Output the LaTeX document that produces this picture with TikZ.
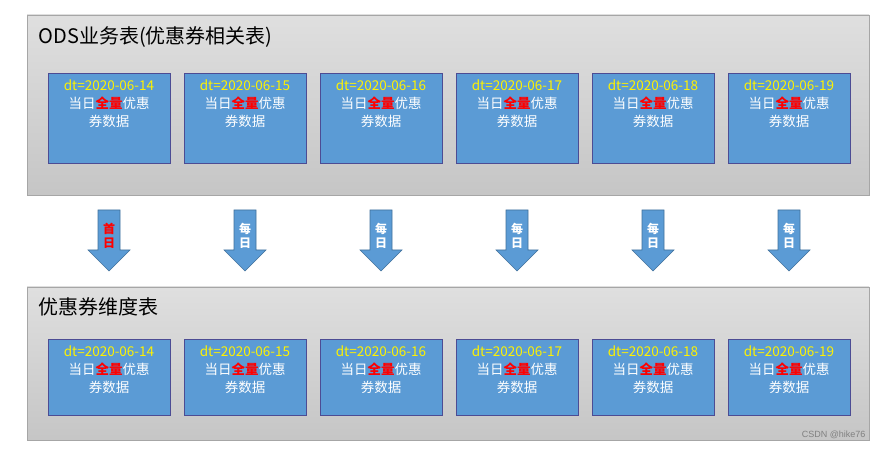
\documentclass[tikz,border=0pt]{standalone}
\usepackage{fontspec}
\setmainfont{Liberation Sans}
\newfontfamily\cjk{Noto Sans CJK SC}
\begin{document}
\begin{tikzpicture}[x=1pt,y=-1pt,
  panel/.style={draw=gray!70,top color=gray!25,bottom color=gray!45},
  databox/.style={draw=blue!40!black!70,fill={rgb,255:red,91;green,155;blue,213},minimum width=122pt,minimum height=90pt,anchor=north west,inner sep=0pt},
  arr/.style={draw={rgb,255:red,65;green,113;blue,156},fill={rgb,255:red,91;green,155;blue,213},line width=0.6pt}]
\useasboundingbox (0,0) rectangle (884,449);
\fill[white] (0,0) rectangle (884,449);
\path[panel] (27,15) rectangle (869,195);
\path[panel] (27,287) rectangle (869,440);
\node[anchor=west,font=\cjk\fontsize{20}{22}\selectfont] (t1) at (35,37) {ODS业务表(优惠券相关表)};
\node[anchor=west,font=\cjk\fontsize{20}{22}\selectfont] (t2) at (35,307) {优惠券维度表};
\foreach \i/\d in {0/14,1/15,2/16,3/17,4/18,5/19}{
  \pgfmathsetmacro{\xx}{48+136*\i}
  \node[databox] (a\i) at (\xx,73) {};
  \node[databox,minimum height=76pt] (b\i) at (\xx,339) {};
  \foreach \n/\y in {a/73,b/339}{
    \node[anchor=north,align=center,font=\cjk\fontsize{13.5}{18}\selectfont,text=white,inner sep=0pt] at (\xx+61,\y+7)
      {\textcolor{yellow}{dt=2020-06-\d}\\当日\textcolor{red}{\bfseries 全量}优惠\\券数据};
  }
  \pgfmathsetmacro{\cx}{109+136*\i}
  \path[arr] (\cx-11,210) -- (\cx+11,210) -- (\cx+11,250) -- (\cx+21,250) -- (\cx,271) -- (\cx-21,250) -- (\cx-11,250) -- cycle;
  \ifnum\i=0
    \node[font=\cjk\bfseries\fontsize{12}{14}\selectfont,text=red,align=center,inner sep=0pt] (m\i) at (\cx,236) {首\\日};
  \else
    \node[font=\cjk\bfseries\fontsize{12}{14}\selectfont,text=white,align=center,inner sep=0pt] (m\i) at (\cx,236) {每\\日};
  \fi
}
\node[anchor=east,font=\fontsize{9}{10}\selectfont,text=gray] (wm) at (869,435) {CSDN @hike76};
\end{tikzpicture}
\end{document}
